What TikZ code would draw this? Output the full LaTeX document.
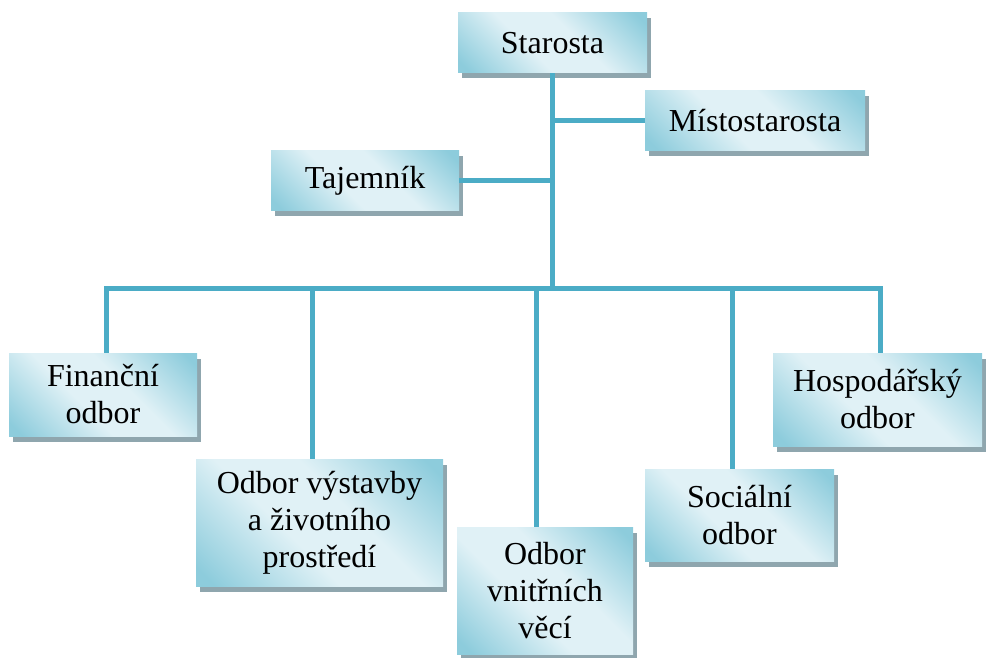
\documentclass[tikz,border=0pt]{standalone}
\usepackage{fontspec}
\setmainfont{Liberation Serif}
\usetikzlibrary{shadows}
\definecolor{boxdark}{RGB}{141,204,220}
\definecolor{boxlight}{RGB}{224,241,246}
\definecolor{shadowc}{RGB}{143,166,174}
\definecolor{linec}{RGB}{75,172,198}
\pgfdeclareverticalshading{orgshade}{100bp}{color(0bp)=(boxdark); color(18bp)=(boxdark); color(42bp)=(boxlight); color(58bp)=(boxlight); color(82bp)=(boxdark); color(100bp)=(boxdark)}
\tikzset{
  orgbox/.style={rectangle, inner sep=0pt, align=center,
    font=\fontsize{32}{37}\selectfont,
    shade, shading=orgshade, shading angle=-45,
    drop shadow={shadow xshift=3.5pt, shadow yshift=-5.5pt, fill=shadowc, opacity=1}},
  conn/.style={draw=linec, line width=5pt}
}
\begin{document}
\begin{tikzpicture}[x=1pt,y=-1pt]
\useasboundingbox (0,0) rectangle (986,658);
% boxes
\node[orgbox, minimum width=189pt, minimum height=60pt] (star) at (552.5,43) {Starosta};
\node[orgbox, minimum width=220pt, minimum height=60pt] (misto) at (755,121) {Místostarosta};
\node[orgbox, minimum width=188pt, minimum height=60pt] (taj) at (365,181) {Tajemník};
\node[orgbox, minimum width=188pt, minimum height=83pt] (fin) at (103,394.5) {Finanční\\odbor};
\node[orgbox, minimum width=247pt, minimum height=127pt] (vyst) at (319.5,522.5) {Odbor výstavby\\a životního\\prostředí};
\node[orgbox, minimum width=176pt, minimum height=127pt] (vnit) at (545,590.5) {Odbor\\vnitřních\\věcí};
\node[orgbox, minimum width=189pt, minimum height=92pt] (soc) at (739.5,515) {Sociální\\odbor};
\node[orgbox, minimum width=209pt, minimum height=93pt] (hosp) at (877.5,399.5) {Hospodářský\\odbor};
% bus coordinates
\coordinate (d1) at (106,288);
\coordinate (d2) at (312,288);
\coordinate (d3) at (536,288);
\coordinate (d4) at (732,288);
\coordinate (d5) at (880,288);
% connectors
\draw[conn] (star.south) -- (star.south |- d1);
\draw[conn] (misto.west) -- (misto.west -| star.south);
\draw[conn] (taj.east) -- (taj.east -| star.south);
\draw[conn] (d1 |- fin.north) -- (d1) -- (d5) -- (d5 |- hosp.north);
\draw[conn] (d2) -- (d2 |- vyst.north);
\draw[conn] (d3) -- (d3 |- vnit.north);
\draw[conn] (d4) -- (d4 |- soc.north);
\end{tikzpicture}
\end{document}
